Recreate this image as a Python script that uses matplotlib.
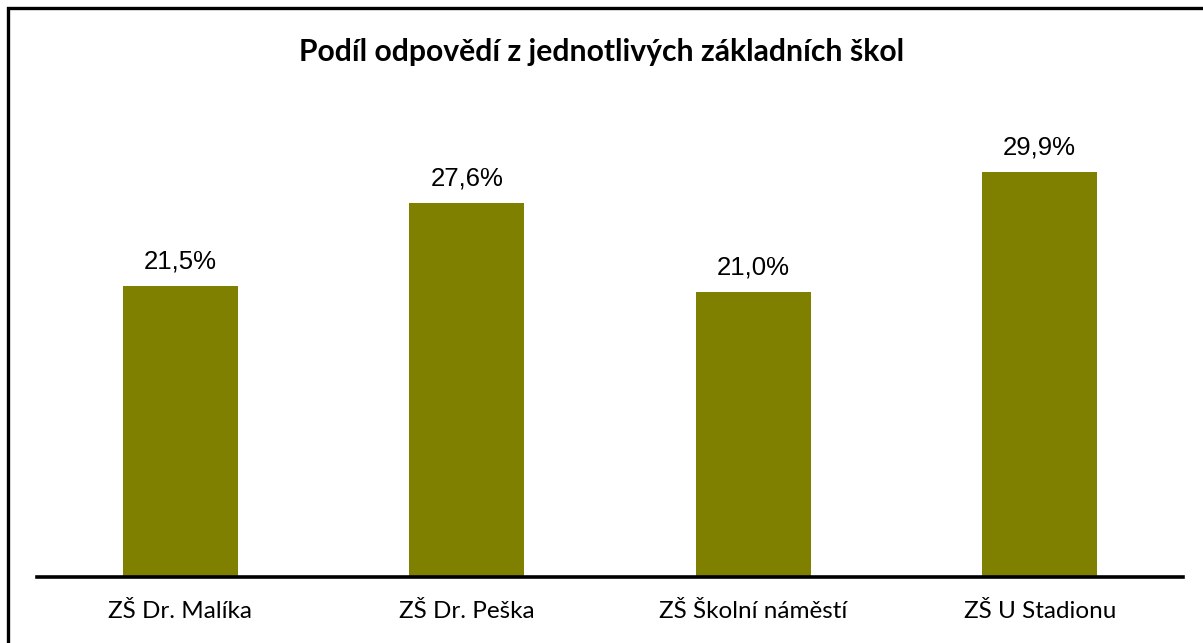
import matplotlib.pyplot as plt
from matplotlib.patches import Rectangle

categories = ['ZŠ Dr. Malíka', 'ZŠ Dr. Peška', 'ZŠ Školní náměstí', 'ZŠ U Stadionu']
shares = [21.5, 27.6, 21.0, 29.9]
labels = ['21,5%', '27,6%', '21,0%', '29,9%']

W, H = 1203, 643
fig = plt.figure(figsize=(W / 100, H / 100), dpi=100)

# frame of the chart area (only left and top edges visible)
fig.patches.append(Rectangle((8 / W, -0.1), 1.2, 1 - 8 / H + 0.1, transform=fig.transFigure,
                             fill=False, edgecolor='black', linewidth=2.4))

# plot area: x 37..1183 px, baseline at 577 px
left, right = 37 / W, 1183 / W
bottom = 1 - 577 / H
ymax = 35
top_px = 577 - ymax * 13.55
ax = fig.add_axes([left, bottom, right - left, (577 - top_px) / H])

x = range(len(categories))
ax.bar(x, shares, width=0.4, color='#808000')
ax.set_xlim(-0.5, len(categories) - 0.5)
ax.set_ylim(0, ymax)

for i, (v, lab) in enumerate(zip(shares, labels)):
    ax.annotate(lab, (i, v), xytext=(0, 9), textcoords='offset points',
                ha='center', va='bottom', fontsize=18.5, family='Liberation Sans')

for s in ['top', 'right', 'left']:
    ax.spines[s].set_visible(False)
ax.spines['bottom'].set_linewidth(2.6)
ax.set_yticks([])
ax.set_xticks(list(x))
ax.set_xticklabels(categories, fontsize=17.5, family='Lato')
ax.tick_params(axis='x', length=0, pad=17)

fig.text(0.5, 1 - 52 / H, 'Podíl odpovědí z jednotlivých základních škol',
         ha='center', va='center', fontsize=21.7, fontweight='bold', family='Lato')

fig.savefig('out.png', dpi=100)
